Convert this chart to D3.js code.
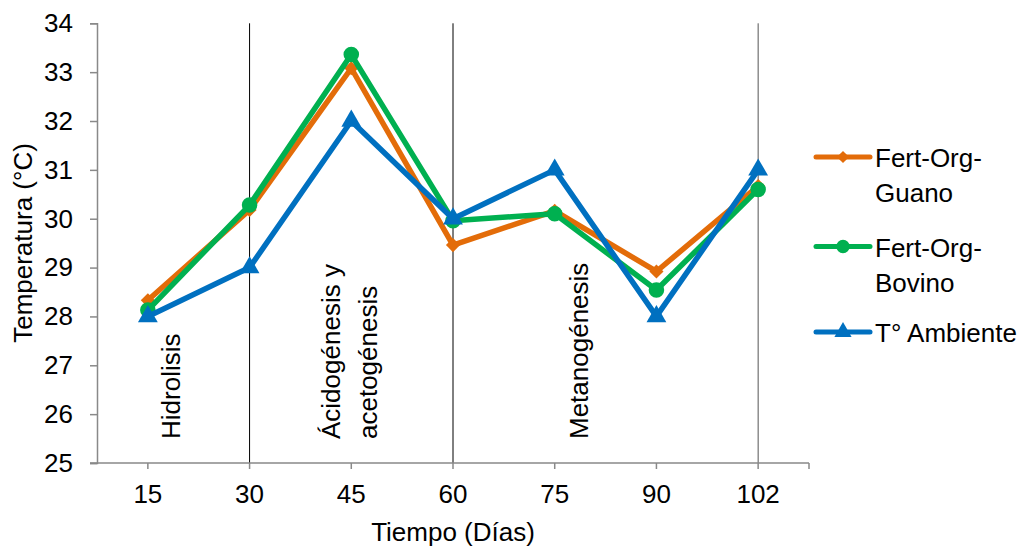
<!DOCTYPE html>
<html>
<head>
<meta charset="utf-8">
<script src="https://cdn.jsdelivr.net/npm/d3@7"></script>
<style>
  body { margin: 0; background: #fff; }
  text { font-family: "Liberation Sans", Arial, sans-serif; fill: #000; }
</style>
</head>
<body>
<svg width="1023" height="546"></svg>
<script>
// datos
var dias = ["15", "30", "45", "60", "75", "90", "102"];
var guano = [28.33, 30.18, 33.08, 29.46, 30.16, 28.92, 30.67];
var bovino = [28.13, 30.28, 33.36, 29.96, 30.1, 28.54, 30.6];
var ambiente = [28, 29, 32, 30, 31, 28, 31];
var yTicks = [25, 26, 27, 28, 29, 30, 31, 32, 33, 34];
var divisiones = ["30", "60", "102"];
var fases = [
    { x: "15", lineas: ["Hidrolisis"] },
    { x: "45", lineas: ["Ácidogénesis y", "acetogénesis"] },
    { x: "75", lineas: ["Metanogénesis"] }
];
var series = [
    { nombre: ["Fert-Org-", "Guano"], valores: guano, color: "#E36C09", marca: "diamond" },
    { nombre: ["Fert-Org-", "Bovino"], valores: bovino, color: "#00B050", marca: "circle" },
    { nombre: ["T° Ambiente"], valores: ambiente, color: "#0070C0", marca: "triangle" }
];

var svg = d3.select("svg");
var izq = 97, der = 809, arriba = 23.3, abajo = 463;
var fs = "26px";

var x = d3.scaleBand().domain(dias).range([izq, der]).padding(0);
var y = d3.scaleLinear().domain([25, 34]).range([abajo, arriba]);
var cx = function (d) { return x(d) + x.bandwidth() / 2; };

// lineas de division de fases
svg.selectAll(".div")
    .data(divisiones)
    .enter()
    .append("line")
    .attr("x1", function (d) { return cx(d); })
    .attr("x2", function (d) { return cx(d); })
    .attr("y1", arriba)
    .attr("y2", abajo)
    .attr("stroke", function (d, i) { return i == 2 ? "#555" : "#000"; })
    .attr("stroke-width", 1);

// eje y
var yAxis = d3.axisLeft(y).tickValues(yTicks).tickSize(7).tickPadding(17);
var gy = svg.append("g").attr("transform", "translate(" + izq + ",0)").call(yAxis);
gy.select(".domain").attr("stroke", "#898989").attr("stroke-width", 1.5);
gy.selectAll(".tick line").attr("stroke", "#898989").attr("stroke-width", 1.5);
gy.selectAll(".tick text").attr("font-size", fs).attr("font-family", "Liberation Sans, Arial").attr("fill", "#000");

// eje x
var gx = svg.append("g").attr("transform", "translate(0," + abajo + ")");
gx.append("line").attr("x1", izq - 7).attr("x2", der).attr("y1", 0).attr("y2", 0)
    .attr("stroke", "#898989").attr("stroke-width", 1.5);
var xTickPos = dias.map(function (d) { return cx(d); }).concat([der]);
gx.selectAll(".xt")
    .data(xTickPos)
    .enter()
    .append("line")
    .attr("x1", function (d) { return d; })
    .attr("x2", function (d) { return d; })
    .attr("y1", 0)
    .attr("y2", 6)
    .attr("stroke", "#898989")
    .attr("stroke-width", 1.5);
gx.selectAll(".xl")
    .data(dias)
    .enter()
    .append("text")
    .attr("x", function (d) { return cx(d); })
    .attr("y", 40)
    .attr("text-anchor", "middle")
    .attr("font-size", fs)
    .text(function (d) { return d; });

// titulos de ejes
svg.append("text")
    .attr("x", 453).attr("y", 541)
    .attr("text-anchor", "middle")
    .attr("font-size", fs)
    .text("Tiempo (Días)");
svg.append("text")
    .attr("transform", "translate(32,243)rotate(-90)")
    .attr("text-anchor", "middle")
    .attr("font-size", fs)
    .text("Temperatura (°C)");

// etiquetas de fases
var faseOffsets = { "15": [32], "45": [-11, 26], "75": [33] };
fases.forEach(function (f) {
    f.lineas.forEach(function (t, j) {
        var px = cx(f.x) + faseOffsets[f.x][j];
        svg.append("text")
            .attr("transform", "translate(" + px + ",439)rotate(-90)")
            .attr("font-size", fs)
            .text(t);
    });
});

// marcadores: el rombo es un cuadrado girado
var simbolos = { diamond: d3.symbolSquare, circle: d3.symbolCircle, triangle: d3.symbolTriangle };
var tam = { diamond: 100, circle: 190, triangle: 170 };
var giro = { diamond: 45, circle: 0, triangle: 0 };

var linea = d3.line()
    .x(function (d, i) { return cx(dias[i]); })
    .y(function (d) { return y(d); });

series.forEach(function (s) {
    svg.append("path")
        .datum(s.valores)
        .attr("d", linea)
        .attr("fill", "none")
        .attr("stroke", s.color)
        .attr("stroke-width", 5.5)
        .attr("stroke-linejoin", "round")
        .attr("stroke-linecap", "round");
    svg.selectAll(null)
        .data(s.valores)
        .enter()
        .append("path")
        .attr("d", d3.symbol().type(simbolos[s.marca]).size(tam[s.marca]))
        .attr("transform", function (d, i) {
            return "translate(" + cx(dias[i]) + "," + y(d) + ")rotate(" + giro[s.marca] + ")";
        })
        .attr("fill", s.color);
});

// leyenda
var legY = [157, 246.5, 332];
series.forEach(function (s, i) {
    var g = svg.append("g").attr("transform", "translate(0," + legY[i] + ")");
    g.append("line").attr("x1", 816).attr("x2", 870).attr("y1", 0).attr("y2", 0)
        .attr("stroke", s.color).attr("stroke-width", 5).attr("stroke-linecap", "round");
    g.append("path")
        .attr("d", d3.symbol().type(simbolos[s.marca]).size(tam[s.marca] * 0.75))
        .attr("transform", "translate(843,0)rotate(" + giro[s.marca] + ")")
        .attr("fill", s.color);
    s.nombre.forEach(function (t, j) {
        g.append("text")
            .attr("x", 875)
            .attr("y", 10 + j * 35)
            .attr("font-size", fs)
            .text(t);
    });
});
</script>
</body>
</html>
